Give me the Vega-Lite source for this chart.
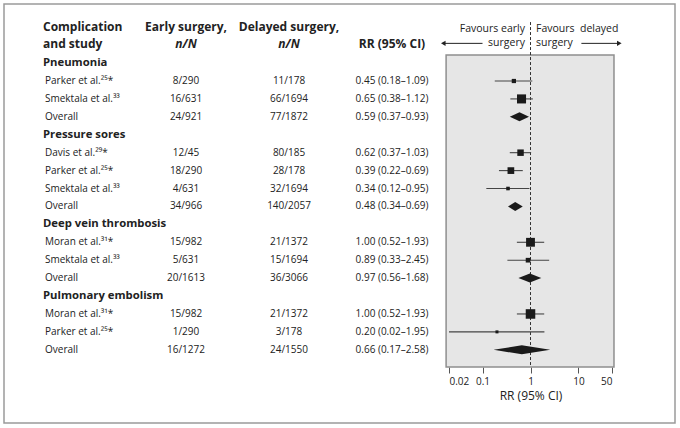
{
  "$schema": "https://vega.github.io/schema/vega-lite/v6.json",
  "width": 671,
  "height": 419,
  "autosize": {"type": "none"},
  "padding": {"left": 4, "top": 4, "right": 5, "bottom": 5},
  "background": "white",
  "config": {
    "font": "Open Sans",
    "view": {"stroke": "#9a9a9a", "strokeWidth": 1.5},
    "text": {"font": "Open Sans", "color": "#222222"}
  },
  "datasets": {
    "rows": [
      {"row": 1, "kind": "group", "label": "Pneumonia"},
      {"row": 2, "kind": "study", "label": "Parker et al.²⁵*", "early": "8/290", "delayed": "11/178", "rr": "0.45 (0.18–1.09)", "est": 0.45, "lo": 0.18, "hi": 1.09, "weight": 18},
      {"row": 3, "kind": "study", "label": "Smektala et al.³³", "early": "16/631", "delayed": "66/1694", "rr": "0.65 (0.38–1.12)", "est": 0.65, "lo": 0.38, "hi": 1.12, "weight": 82},
      {"row": 4, "kind": "overall", "label": "Overall", "early": "24/921", "delayed": "77/1872", "rr": "0.59 (0.37–0.93)", "est": 0.59, "lo": 0.37, "hi": 0.93},
      {"row": 5, "kind": "group", "label": "Pressure sores"},
      {"row": 6, "kind": "study", "label": "Davis et al.²⁹*", "early": "12/45", "delayed": "80/185", "rr": "0.62 (0.37–1.03)", "est": 0.62, "lo": 0.37, "hi": 1.03, "weight": 42},
      {"row": 7, "kind": "study", "label": "Parker et al.²⁵*", "early": "18/290", "delayed": "28/178", "rr": "0.39 (0.22–0.69)", "est": 0.39, "lo": 0.22, "hi": 0.69, "weight": 45},
      {"row": 8, "kind": "study", "label": "Smektala et al.³³", "early": "4/631", "delayed": "32/1694", "rr": "0.34 (0.12–0.95)", "est": 0.34, "lo": 0.12, "hi": 0.95, "weight": 13},
      {"row": 9, "kind": "overall", "label": "Overall", "early": "34/966", "delayed": "140/2057", "rr": "0.48 (0.34–0.69)", "est": 0.48, "lo": 0.34, "hi": 0.69},
      {"row": 10, "kind": "group", "label": "Deep vein thrombosis"},
      {"row": 11, "kind": "study", "label": "Moran et al.³¹*", "early": "15/982", "delayed": "21/1372", "rr": "1.00 (0.52–1.93)", "est": 1.0, "lo": 0.52, "hi": 1.93, "weight": 78},
      {"row": 12, "kind": "study", "label": "Smektala et al.³³", "early": "5/631", "delayed": "15/1694", "rr": "0.89 (0.33–2.45)", "est": 0.89, "lo": 0.33, "hi": 2.45, "weight": 22},
      {"row": 13, "kind": "overall", "label": "Overall", "early": "20/1613", "delayed": "36/3066", "rr": "0.97 (0.56–1.68)", "est": 0.97, "lo": 0.56, "hi": 1.68},
      {"row": 14, "kind": "group", "label": "Pulmonary embolism"},
      {"row": 15, "kind": "study", "label": "Moran et al.³¹*", "early": "15/982", "delayed": "21/1372", "rr": "1.00 (0.52–1.93)", "est": 1.0, "lo": 0.52, "hi": 1.93, "weight": 91},
      {"row": 16, "kind": "study", "label": "Parker et al.²⁵*", "early": "1/290", "delayed": "3/178", "rr": "0.20 (0.02–1.95)", "est": 0.2, "lo": 0.02, "hi": 1.95, "weight": 9},
      {"row": 17, "kind": "overall", "label": "Overall", "early": "16/1272", "delayed": "24/1550", "rr": "0.66 (0.17–2.58)", "est": 0.66, "lo": 0.17, "hi": 2.58}
    ],
    "headers": [
      {"col": "study", "h1": "Complication", "h2": "and study"},
      {"col": "early", "h1": "Early surgery,", "h2": "n/N"},
      {"col": "delayed", "h1": "Delayed surgery,", "h2": "n/N"},
      {"col": "rr", "h1": "", "h2": "RR (95% CI)"}
    ],
    "notes": [
      {"side": "left", "text": "Favours early\nsurgery"},
      {"side": "right", "text": "Favours\u00a0\u00a0delayed\nsurgery"}
    ],
    "arrows": [
      {"dir": "left", "from": 0.1, "to": 0.0152},
      {"dir": "right", "from": 11.5, "to": 71}
    ]
  },
  "data": {"name": "rows"},
  "layer": [
    {
      "layer": [
        {
          "transform": [{"filter": "datum.kind === 'group'"}],
          "mark": {"type": "text", "align": "left", "baseline": "middle", "dx": -40, "fontSize": 11.3, "fontWeight": "bold"},
          "encoding": {
            "x": {"datum": "study", "type": "nominal", "scale": {"type": "point", "domain": ["study", "early", "delayed", "rr"], "range": [79, 388], "padding": 0}, "axis": null},
            "y": {"field": "row", "type": "quantitative", "scale": {"domain": [-2.297, 21.085], "reverse": true, "nice": false, "zero": false}, "axis": null},
            "text": {"field": "label"}
          }
        },
        {
          "transform": [{"filter": "datum.kind !== 'group'"}],
          "mark": {"type": "text", "align": "left", "baseline": "middle", "dx": -38, "fontSize": 10},
          "encoding": {
            "x": {"datum": "study", "type": "nominal"},
            "y": {"field": "row", "type": "quantitative"},
            "text": {"field": "label"}
          }
        },
        {
          "transform": [{"filter": "datum.kind !== 'group'"}, {"fold": ["early", "delayed", "rr"], "as": ["col", "val"]}],
          "mark": {"type": "text", "align": "center", "baseline": "middle", "fontSize": 10},
          "encoding": {
            "x": {"field": "col", "type": "nominal"},
            "y": {"field": "row", "type": "quantitative"},
            "text": {"field": "val"}
          }
        },
        {
          "data": {"name": "headers"},
          "transform": [{"filter": "datum.col === 'study'"}],
          "mark": {"type": "text", "align": "left", "baseline": "middle", "dx": -40, "fontSize": 12, "fontWeight": "bold"},
          "encoding": {
            "x": {"field": "col", "type": "nominal"},
            "y": {"datum": -1.0, "type": "quantitative"},
            "text": {"field": "h1"}
          }
        },
        {
          "data": {"name": "headers"},
          "transform": [{"filter": "datum.col === 'study'"}],
          "mark": {"type": "text", "align": "left", "baseline": "middle", "dx": -40, "fontSize": 12, "fontWeight": "bold"},
          "encoding": {
            "x": {"field": "col", "type": "nominal"},
            "y": {"datum": -0.07, "type": "quantitative"},
            "text": {"field": "h2"}
          }
        },
        {
          "data": {"name": "headers"},
          "transform": [{"filter": "datum.col !== 'study'"}],
          "mark": {"type": "text", "align": "center", "baseline": "middle", "fontSize": 12, "fontWeight": "bold"},
          "encoding": {
            "x": {"field": "col", "type": "nominal"},
            "y": {"datum": -1.0, "type": "quantitative"},
            "text": {"field": "h1"}
          }
        },
        {
          "data": {"name": "headers"},
          "transform": [{"filter": "datum.col === 'early' || datum.col === 'delayed'"}],
          "mark": {"type": "text", "align": "center", "baseline": "middle", "fontSize": 12, "fontWeight": "bold", "fontStyle": "italic"},
          "encoding": {
            "x": {"field": "col", "type": "nominal"},
            "y": {"datum": -0.07, "type": "quantitative"},
            "text": {"field": "h2"}
          }
        },
        {
          "data": {"name": "headers"},
          "transform": [{"filter": "datum.col === 'rr'"}],
          "mark": {"type": "text", "align": "center", "baseline": "middle", "fontSize": 12, "fontWeight": "bold"},
          "encoding": {
            "x": {"field": "col", "type": "nominal"},
            "y": {"datum": -0.07, "type": "quantitative"},
            "text": {"field": "h2"}
          }
        }
      ]
    },
    {
      "layer": [
        {
          "data": {"values": [{}]},
          "mark": {"type": "rect", "fill": "#e6e6e6", "stroke": "#8f8f8f", "strokeWidth": 1.5},
          "encoding": {
            "x": {
              "datum": 0.0174, "type": "quantitative",
              "scale": {"type": "log", "domain": [0.02, 50], "range": [445, 608], "nice": false, "zero": false},
              "axis": {"values": [0.02, 0.1, 1, 10, 50], "format": "~g", "orient": "bottom", "offset": -56, "domain": false, "grid": false, "tickSize": 6, "tickColor": "#555555", "labelFont": "Open Sans", "labelFontSize": 10, "labelColor": "#222222", "labelPadding": 3, "title": "RR (95% CI)", "titleFont": "Open Sans", "titleFontSize": 12, "titleFontWeight": "normal", "titleColor": "#222222", "titlePadding": 4}
            },
            "x2": {"datum": 55},
            "y": {"datum": 0.55, "type": "quantitative"},
            "y2": {"datum": 17.96}
          }
        },
        {
          "data": {"values": [{}]},
          "mark": {"type": "rule", "strokeDash": [3, 2], "color": "#333333", "strokeWidth": 1},
          "encoding": {
            "x": {"datum": 1, "type": "quantitative"},
            "y": {"datum": -1.29, "type": "quantitative"},
            "y2": {"datum": 17.96}
          }
        },
        {
          "transform": [{"filter": "datum.kind === 'study'"}],
          "mark": {"type": "rule", "color": "#444444", "strokeWidth": 1.1},
          "encoding": {
            "x": {"field": "lo", "type": "quantitative"},
            "x2": {"field": "hi"},
            "y": {"field": "row", "type": "quantitative"}
          }
        },
        {
          "transform": [{"filter": "datum.kind === 'study'"}],
          "mark": {"type": "square", "filled": true, "color": "#1a1a1a", "opacity": 1},
          "encoding": {
            "x": {"field": "est", "type": "quantitative"},
            "y": {"field": "row", "type": "quantitative"},
            "size": {"field": "weight", "type": "quantitative", "scale": {"type": "linear", "domain": [0, 100], "range": [0, 100]}, "legend": null}
          }
        },
        {
          "transform": [{"filter": "datum.kind === 'overall'"}, {"fold": ["lo", "est", "hi"], "as": ["k", "v"]}],
          "mark": {"type": "area", "orient": "vertical", "color": "#1a1a1a", "opacity": 1, "yOffset": {"expr": "datum.k === 'est' ? -4.5 : 0"}, "y2Offset": {"expr": "datum.k === 'est' ? 4.5 : 0"}},
          "encoding": {
            "x": {"field": "v", "type": "quantitative"},
            "y": {"field": "row", "type": "quantitative"},
            "y2": {"field": "row"},
            "detail": {"field": "row"}
          }
        },
        {
          "data": {"name": "notes"},
          "transform": [{"filter": "datum.side === 'left'"}],
          "mark": {"type": "text", "align": "right", "baseline": "middle", "dx": -5.5, "fontSize": 10.5, "lineBreak": "\n", "lineHeight": 14},
          "encoding": {
            "x": {"datum": 1, "type": "quantitative"},
            "y": {"datum": -0.9, "type": "quantitative"},
            "text": {"field": "text"}
          }
        },
        {
          "data": {"name": "notes"},
          "transform": [{"filter": "datum.side === 'right'"}],
          "mark": {"type": "text", "align": "left", "baseline": "middle", "dx": 5.5, "fontSize": 10.5, "lineBreak": "\n", "lineHeight": 14},
          "encoding": {
            "x": {"datum": 1, "type": "quantitative"},
            "y": {"datum": -0.9, "type": "quantitative"},
            "text": {"field": "text"}
          }
        },
        {
          "data": {"name": "arrows"},
          "mark": {"type": "rule", "color": "#222222", "strokeWidth": 1},
          "encoding": {
            "x": {"field": "from", "type": "quantitative"},
            "x2": {"field": "to"},
            "y": {"datum": -0.1, "type": "quantitative"}
          }
        },
        {
          "data": {"name": "arrows"},
          "mark": {"type": "point", "filled": true, "color": "#222222", "opacity": 1, "size": 28},
          "encoding": {
            "x": {"field": "to", "type": "quantitative"},
            "y": {"datum": -0.1, "type": "quantitative"},
            "shape": {"field": "dir", "type": "nominal", "scale": {"domain": ["left", "right"], "range": ["triangle-left", "triangle-right"]}, "legend": null}
          }
        }
      ]
    }
  ],
  "resolve": {"scale": {"x": "independent"}, "axis": {"x": "independent"}}
}
